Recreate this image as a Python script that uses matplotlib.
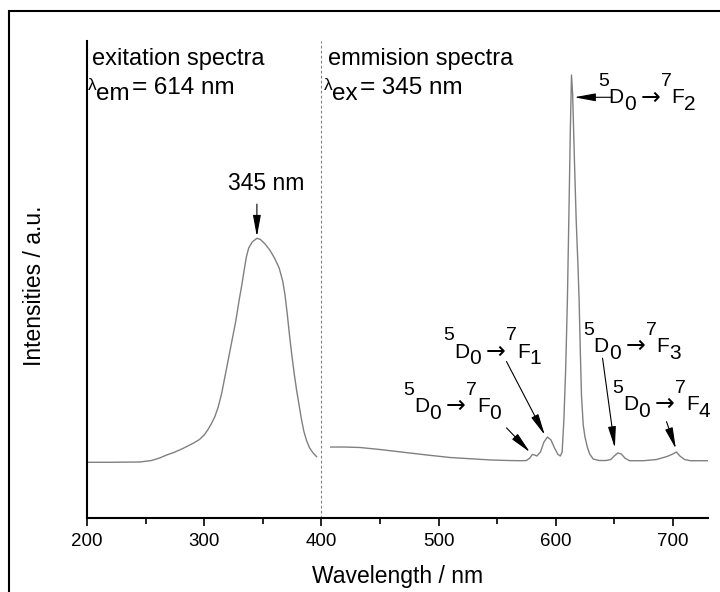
import matplotlib
matplotlib.use("Agg")
import matplotlib.pyplot as plt
from matplotlib.patches import Rectangle
from matplotlib.ticker import MultipleLocator

plt.rcParams['font.family'] = ['Liberation Sans', 'DejaVu Sans']

# excitation spectrum (lambda_em = 614 nm)
exc_nm = [200, 220, 245, 255, 262, 268, 274, 280, 286, 291, 296, 300, 303, 306,
          309, 312, 315, 318, 321, 324, 327, 330, 332, 334, 336, 338, 341, 345,
          348, 352, 356, 360, 364, 367, 369, 371, 373, 375, 377, 379, 381, 383,
          385, 387.5, 390, 393, 396]
exc_int = [11.68, 11.68, 11.74, 12.05, 12.58, 13.21, 13.73, 14.36, 15.09, 15.72,
           16.46, 17.40, 18.45, 19.71, 21.17, 23.27, 26.21, 29.98, 33.75, 37.53,
           41.30, 45.91, 48.64, 51.78, 54.72, 56.60, 57.86, 58.64, 58.39, 57.44,
           56.18, 54.51, 52.41, 49.69, 46.75, 42.56, 37.95, 33.75, 29.98, 26.62,
           23.69, 20.75, 18.24, 16.14, 14.68, 13.63, 12.85]

# emission spectrum (lambda_ex = 345 nm)
em_nm = [408, 420, 433, 450, 468, 490, 510, 524, 545, 560, 570, 575, 578, 580,
         582, 584, 587, 590, 593, 596, 599, 602, 604, 605.5, 607, 608.5, 610,
         611.5, 612.5, 613.5, 614.5, 616, 617.5, 619, 620, 621, 622, 623.5, 625,
         627, 629, 632, 637, 643, 647, 650, 653, 656, 659, 663, 675, 686, 695,
         700, 703, 706, 710, 715, 730]
em_int = [14.88, 14.88, 14.78, 14.36, 13.84, 13.21, 12.68, 12.47, 12.16, 12.05,
          12.01, 12.05, 12.58, 13.31, 13.21, 13.00, 13.84, 15.93, 16.98, 16.35,
          14.68, 13.31, 13.00, 13.84, 20.55, 31.03, 45.70, 66.67, 81.34, 92.87,
          88.68, 75.05, 62.47, 53.04, 45.70, 35.22, 25.79, 19.50, 16.98, 14.88,
          13.42, 12.37, 12.05, 12.05, 12.26, 13.00, 13.63, 13.42, 12.58, 12.01,
          12.01, 12.26, 12.89, 13.42, 13.84, 13.00, 12.26, 12.01, 12.01]

# transition labels: (final level index, label position, arrow tail, arrow tip)
transitions = [
    ('0', (469.6, 22.2), (558.0, 18.9), (578.0, 13.8)),
    ('1', (503.8, 33.6), (558.0, 32.8), (590.7, 17.4)),
    ('2', (636.0, 86.9), (648.0, 88.2), (615.8, 88.2)),
    ('3', (623.2, 34.8), (640.0, 33.5), (650.5, 14.7)),
    ('4', (648.0, 22.6), (694.6, 20.2), (702.6, 14.5)),
]

ARROW = dict(arrowstyle='-|>,head_length=0.65,head_width=0.12', color='black',
             lw=0.8, shrinkA=0, shrinkB=0, mutation_scale=20)


def rich_label(ax, x, y, parts):
    # parts: (text, fontsize, rise in points), laid out left to right
    renderer = ax.figure.canvas.get_renderer()
    dx = 0.0
    for s, size, rise in parts:
        t = ax.annotate(s, (x, y), xytext=(dx, rise), textcoords='offset points',
                        fontsize=size, ha='left', va='baseline')
        dx += t.get_window_extent(renderer).width * 72.0 / ax.figure.dpi


fig = plt.figure(figsize=(7.2, 5.92), dpi=100)
ax = fig.add_axes([87 / 720, 74 / 592, 621 / 720, 477 / 592])

ax.plot(exc_nm, exc_int, color='#808080', lw=1.0)
ax.plot(em_nm, em_int, color='#808080', lw=1.0)
ax.axvline(400, color='#808080', lw=0.8, ls=(0, (2.5, 2.0)))

ax.set_xlim(200, 730)
ax.set_ylim(0, 100)
ax.set_yticks([])
ax.xaxis.set_major_locator(MultipleLocator(100))
ax.xaxis.set_minor_locator(MultipleLocator(50))
ax.tick_params(axis='x', which='major', direction='out', length=6, width=1.2,
               labelsize=13.5, pad=5)
ax.tick_params(axis='x', which='minor', direction='out', length=4, width=1.2)
for side in ['top', 'right']:
    ax.spines[side].set_visible(False)
for side in ['left', 'bottom']:
    ax.spines[side].set_linewidth(1.5)

ax.set_xlabel('Wavelength / nm', fontsize=16.5, va='center')
ax.xaxis.set_label_coords(0.5, (518 - 577) / 477)
ax.set_ylabel('Intensities / a.u.', fontsize=16.5, va='center')
ax.yaxis.set_label_coords((35 - 87) / 621, (518 - 286) / 477)

# panel captions
ax.text(204.3, 95.0, 'exitation spectra', fontsize=17)
rich_label(ax, 200.5, 88.9, [('\u03bb', 12.5, 3), ('em', 17.5, -4.3), (' ', 5, 0),
                             ('=', 19, 0), (' 614 nm', 17.5, 0)])
ax.text(405.6, 95.0, 'emmision spectra', fontsize=17)
rich_label(ax, 402.0, 88.9, [('\u03bb', 12.5, 3), ('ex', 17.5, -4.3), (' ', 5, 0),
                             ('=', 19, 0), (' 345 nm', 17.5, 0)])

# excitation maximum
ax.text(353.2, 68.8, '345 nm', fontsize=16.5, ha='center')
ax.annotate('', xy=(345, 59.0), xytext=(345, 65.8), arrowprops=ARROW)

for j, pos, tail, tip in transitions:
    rich_label(ax, pos[0], pos[1], [('5', 14, 12.5), ('D', 15, 0), ('0', 15, -4.8),
                                    (r'$\rightarrow$', 17, 0),
                                    ('7', 14, 12.5), ('F', 15, 0), (j, 15, -4.8)])
    ax.annotate('', xy=tip, xytext=tail, arrowprops=ARROW)

# outer frame of the original figure (cropped at right and bottom)
fig.patches.append(Rectangle((9 / 720, -0.1), 1.2, (592 - 11) / 592 + 0.1,
                             transform=fig.transFigure, fill=False, lw=1.5,
                             edgecolor='black'))

fig.savefig('out.png', dpi=100)
